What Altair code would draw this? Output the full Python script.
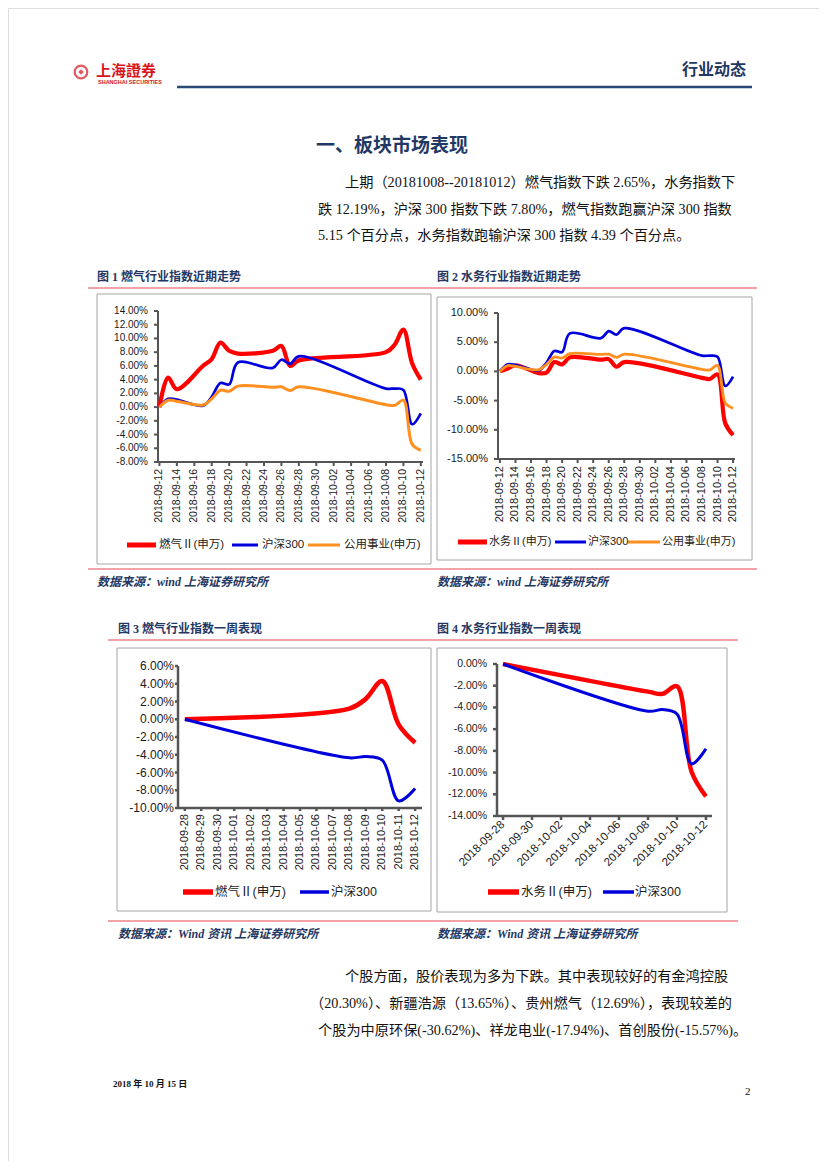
import altair as alt
import pandas as pd

M = 8            # page margin of the html body
W, H = 811, 1153  # drawing canvas (page minus margins)

RED = "#ff0000"
BLUE = "#0000dd"
ORANGE = "#ff8f1f"
NAVY = "#1f3864"
LINE_RED = "#e2474f"
FRAME = "#a6a6a6"
AXIS = "#555555"
TXT = "#111111"

SANS = "Liberation Sans, Arial, Noto Sans CJK SC"
CJK = "Noto Sans CJK SC"
SERIF = "Liberation Serif, Noto Sans CJK SC"

# ---------------- chart data ----------------
month_dates = ["2018-09-12", "2018-09-13", "2018-09-14", "2018-09-17", "2018-09-18",
               "2018-09-19", "2018-09-20", "2018-09-21", "2018-09-25", "2018-09-26",
               "2018-09-27", "2018-09-28", "2018-10-08", "2018-10-09", "2018-10-10",
               "2018-10-11", "2018-10-12"]
gas_month = [0.0, 4.3, 2.6, 6.0, 7.0, 9.4, 8.2, 7.8, 8.2, 8.9, 6.0, 6.8, 8.0, 9.1, 11.3, 6.4, 4.0]
hs300_month = [0.0, 1.2, 1.1, 0.2, 1.5, 3.5, 3.3, 6.5, 5.7, 6.9, 6.3, 7.4, 2.7, 2.7, 2.5, -2.5, -0.9]
util_month = [0.0, 1.0, 0.85, 0.3, 1.2, 2.45, 2.3, 3.05, 2.9, 2.95, 2.4, 2.95, 0.35, 0.25, 1.0, -5.4, -6.3]
water_month = [0.0, 0.5, 1.05, -0.3, -0.2, 1.6, 1.2, 2.4, 2.0, 2.1, 0.8, 1.6, -1.1, -1.3, -0.5, -8.9, -10.9]

week_dates = ["2018-09-28", "2018-10-08", "2018-10-09", "2018-10-10", "2018-10-11", "2018-10-12"]
gas_week = [0.0, 1.2, 2.3, 4.3, -0.6, -2.65]
hs300_week = [0.0, -4.35, -4.2, -4.6, -9.2, -7.8]
water_week = [0.0, -2.55, -2.75, -2.05, -9.9, -12.19]

NAME_GAS = "燃气Ⅱ(申万)"
NAME_WATER = "水务Ⅱ(申万)"
NAME_HS = "沪深300"
NAME_UTIL = "公用事业(申万)"

month_ticks = ["2018-09-12", "2018-09-14", "2018-09-16", "2018-09-18", "2018-09-20",
               "2018-09-22", "2018-09-24", "2018-09-26", "2018-09-28", "2018-09-30",
               "2018-10-02", "2018-10-04", "2018-10-06", "2018-10-08", "2018-10-10",
               "2018-10-12"]
week_ticks_daily = ["2018-09-28", "2018-09-29", "2018-09-30", "2018-10-01", "2018-10-02",
                    "2018-10-03", "2018-10-04", "2018-10-05", "2018-10-06", "2018-10-07",
                    "2018-10-08", "2018-10-09", "2018-10-10", "2018-10-11", "2018-10-12"]
week_ticks_2 = ["2018-09-28", "2018-09-30", "2018-10-02", "2018-10-04", "2018-10-06",
                "2018-10-08", "2018-10-10", "2018-10-12"]
y1_ticks = [-8, -6, -4, -2, 0, 2, 4, 6, 8, 10, 12, 14]
y2_ticks = [-15, -10, -5, 0, 5, 10]
y3_ticks = [-10, -8, -6, -4, -2, 0, 2, 4, 6]
y4_ticks = [-14, -12, -10, -8, -6, -4, -2, 0]

# ---------------- page text ----------------
para1 = ["上期（20181008--20181012）燃气指数下跌 2.65%，水务指数下",
         "跌 12.19%，沪深 300 指数下跌 7.80%，燃气指数跑赢沪深 300 指数",
         "5.15 个百分点，水务指数跑输沪深 300 指数 4.39 个百分点。"]
para2 = ["个股方面，股价表现为多为下跌。其中表现较好的有金鸿控股",
         "（20.30%）、新疆浩源（13.65%）、贵州燃气（12.69%），表现较差的",
         "个股为中原环保(-30.62%)、祥龙电业(-17.94%)、首创股份(-15.57%)。"]
fig_titles = ["图 1 燃气行业指数近期走势", "图 2 水务行业指数近期走势",
              "图 3  燃气行业指数一周表现", "图 4  水务行业指数一周表现"]
sources = ["数据来源：wind 上海证券研究所", "数据来源：wind  上海证券研究所",
           "数据来源：Wind 资讯 上海证券研究所", "数据来源：Wind 资讯 上海证券研究所"]

one = pd.DataFrame({"k": [0]})


def dt(s, h=0):
    y, m, d = (int(p) for p in s.split("-"))
    return alt.DateTime(year=y, month=m, date=d, hours=h)


def ts(s, h=0):
    return pd.Timestamp(s) + pd.Timedelta(hours=h)


def pct(v):
    return f"{v:.2f}%"


def txt(s, x, y, size, color=TXT, font=SERIF, weight="normal", style="normal", align="left"):
    return alt.Chart(one).mark_text(
        text=s, fontSize=size, font=font, fontWeight=weight, fontStyle=style,
        color=color, align=align, baseline="middle"
    ).encode(x=alt.value(x - M), y=alt.value(y - M))


def panel(dates, series, xlo, xhi, xr, yr, ydom, xticks, yticks, xfs, yfs, dw,
          xangle=270, xpad=3, ypad=4, tick=4):
    """xr = (left, right) page px of x axis, yr = (bottom, top) page px of y axis."""
    xdom = [dt(*xlo), dt(*xhi)]
    xscale = alt.Scale(domain=xdom, range=[xr[0] - M, xr[1] - M], nice=False)
    yscale = alt.Scale(domain=ydom, range=[yr[0] - M, yr[1] - M], nice=False, zero=False)
    ax = xr[0] - M   # y axis x position (canvas)
    ay = yr[0] - M   # x axis y position (canvas)

    X = lambda f: alt.X(f, scale=xscale, axis=None)
    Y = lambda f: alt.Y(f, scale=yscale, axis=None)

    layers = []
    # axis lines
    ydomain_df = pd.DataFrame({"lo": [ydom[0]], "hi": [ydom[1]]})
    layers.append(alt.Chart(ydomain_df).mark_rule(color=AXIS, strokeWidth=dw).encode(
        x=alt.value(ax), y=Y("lo:Q"), y2="hi:Q"))
    xdomain_df = pd.DataFrame({"lo": [ts(*xlo)], "hi": [ts(*xhi)]})
    layers.append(alt.Chart(xdomain_df).mark_rule(color=AXIS, strokeWidth=dw).encode(
        y=alt.value(ay), x=X("lo:T"), x2="hi:T"))
    # y ticks + labels
    ydf = pd.DataFrame({"v": yticks, "lab": [pct(v) for v in yticks]})
    layers.append(alt.Chart(ydf).mark_rule(color=AXIS, strokeWidth=dw).encode(
        x=alt.value(ax - tick), x2=alt.value(ax), y=Y("v:Q")))
    layers.append(alt.Chart(ydf).mark_text(align="right", baseline="middle", font=SANS,
                                           fontSize=yfs, color="#1a1a1a").encode(
        x=alt.value(ax - tick - ypad), y=Y("v:Q"), text="lab:N"))
    # x ticks + labels
    xdf = pd.DataFrame({"d": pd.to_datetime(xticks), "lab": xticks})
    layers.append(alt.Chart(xdf).mark_rule(color=AXIS, strokeWidth=dw).encode(
        y=alt.value(ay), y2=alt.value(ay + tick), x=X("d:T")))
    layers.append(alt.Chart(xdf).mark_text(align="right", baseline="middle", font=SANS,
                                           fontSize=xfs, angle=xangle, color="#1a1a1a").encode(
        y=alt.value(ay + tick + xpad), x=X("d:T"), text="lab:N"))
    # series
    base = pd.DataFrame({"date": pd.to_datetime(dates)})
    for name, vals, color, sw in series:
        d = base.assign(v=vals, s=name)
        layers.append(
            alt.Chart(d).mark_line(color=color, strokeWidth=sw, interpolate="catmull-rom").encode(
                x=X("date:T"), y=Y("v:Q")))
    return alt.layer(*layers)


c1 = panel(month_dates,
           [(NAME_GAS, gas_month, RED, 4.2), (NAME_HS, hs300_month, BLUE, 2.7),
            (NAME_UTIL, util_month, ORANGE, 3)],
           ("2018-09-11", 20), ("2018-10-12", 6), (158, 423), (462, 311), [-8, 14],
           month_ticks, y1_ticks, 10.5, 10, 2, ypad=6)
c2 = panel(month_dates,
           [(NAME_WATER, water_month, RED, 4.2), (NAME_HS, hs300_month, BLUE, 2.7),
            (NAME_UTIL, util_month, ORANGE, 2.8)],
           ("2018-09-11", 18), ("2018-10-12", 6), (498, 735), (459, 313), [-15, 10],
           month_ticks, y2_ticks, 11, 11, 2, ypad=6)
c3 = panel(week_dates,
           [(NAME_GAS, gas_week, RED, 4.6), (NAME_HS, hs300_week, BLUE, 3)],
           ("2018-09-27", 14), ("2018-10-12", 10), (178, 422), (808, 666), [-10, 6],
           week_ticks_daily, y3_ticks, 11, 12, 2.5, ypad=1, tick=3)
c4 = panel(week_dates,
           [(NAME_WATER, water_week, RED, 4.4), (NAME_HS, hs300_week, BLUE, 3)],
           ("2018-09-27", 14), ("2018-10-12", 10), (497, 712), (816, 664), [-14, 0],
           week_ticks_2, y4_ticks, 11.5, 10.5, 2.5, xangle=315, xpad=3, ypad=6)

# ---------------- page furniture ----------------
frames = pd.DataFrame({"x": [97, 437, 117, 437], "x2": [431, 752, 431, 727],
                       "y": [294, 297, 648, 648], "y2": [564, 560, 911, 912]}) - M
frame_layer = alt.Chart(frames).mark_rect(fillOpacity=0, stroke=FRAME, strokeWidth=1).encode(
    x=alt.X("x:Q", scale=None, axis=None), x2="x2:Q",
    y=alt.Y("y:Q", scale=None, axis=None), y2="y2:Q")

reds = pd.DataFrame({"x": [88, 88, 108, 108], "x2": [757, 757, 738, 738],
                     "y": [288, 569, 640, 921]}) - M
red_layer = alt.Chart(reds).mark_rule(color=LINE_RED, strokeWidth=1).encode(
    x=alt.X("x:Q", scale=None, axis=None), x2="x2:Q", y=alt.Y("y:Q", scale=None, axis=None))

header_rule = alt.Chart(one).mark_rule(color="#2b4a78", strokeWidth=2.5).encode(
    x=alt.value(177 - M), x2=alt.value(752 - M), y=alt.value(87 - M))

leg_lines = pd.DataFrame({
    "x": [127, 232, 308, 458, 555, 628, 183, 300, 488, 603],
    "x2": [156, 258, 340, 487, 586, 660, 213, 329, 519, 634],
    "y": [545, 545, 545, 542, 542, 542, 892, 892, 892, 892],
    "c": [RED, BLUE, ORANGE, RED, BLUE, ORANGE, RED, BLUE, RED, BLUE],
    "w": [5, 3, 3, 5, 3, 3, 5.5, 3.5, 5.5, 3.5]})
leg_lines[["x", "x2", "y"]] -= M
leg_line_layer = alt.Chart(leg_lines).mark_rule().encode(
    x=alt.X("x:Q", scale=None, axis=None), x2="x2:Q", y=alt.Y("y:Q", scale=None, axis=None),
    color=alt.Color("c:N", scale=None), strokeWidth=alt.StrokeWidth("w:Q", scale=None))

leg_text = pd.DataFrame({
    "x": [159, 262, 344, 489, 588, 662, 215, 331, 521, 635],
    "y": [545, 545, 545, 542, 542, 542, 892, 892, 892, 892],
    "t": [NAME_GAS, NAME_HS, NAME_UTIL, NAME_WATER, NAME_HS, NAME_UTIL,
          NAME_GAS, NAME_HS, NAME_WATER, NAME_HS],
    "fs": [11.5, 11.5, 11.5, 11, 11, 11, 12.5, 12.5, 12.5, 12.5]})
leg_text[["x", "y"]] -= M
leg_text_layer = alt.Chart(leg_text).mark_text(align="left", baseline="middle", font=SANS,
                                               color="#222222").encode(
    x=alt.X("x:Q", scale=None, axis=None), y=alt.Y("y:Q", scale=None, axis=None),
    text="t:N", size=alt.Size("fs:Q", scale=None))

logo_circle = alt.Chart(one).mark_point(shape="circle", filled=False, stroke="#d7141c",
                                        strokeWidth=2.2, size=160).encode(
    x=alt.value(81 - M), y=alt.value(72 - M))
logo_core = alt.Chart(one).mark_point(shape="diamond", filled=True, color="#d7141c",
                                      size=30).encode(x=alt.value(81 - M), y=alt.value(72 - M))

decor = [
    frame_layer, red_layer, header_rule, leg_line_layer, leg_text_layer,
    logo_circle, logo_core,
    txt("上海證券", 96, 71, 15, color="#d7141c", font=CJK, weight="bold"),
    txt("SHANGHAI SECURITIES", 98, 81.5, 5.5, color="#d7141c", font=SANS, weight="bold"),
    txt("行业动态", 746, 70, 16, color=NAVY, font=CJK, weight="bold", align="right"),
    txt("一、板块市场表现", 316, 146, 19, color=NAVY, font=CJK, weight="bold"),
    txt(para1[0], 345, 183, 14.2),
    txt(para1[1], 318, 210, 14.2),
    txt(para1[2], 318, 236, 14.2),
    txt(fig_titles[0], 97, 277, 12, color=NAVY, weight="bold"),
    txt(fig_titles[1], 437, 277, 12, color=NAVY, weight="bold"),
    txt(fig_titles[2], 118, 629, 12, color=NAVY, weight="bold"),
    txt(fig_titles[3], 437, 629, 12, color=NAVY, weight="bold"),
    txt(sources[0], 97, 582, 12, color=NAVY, weight="bold", style="italic"),
    txt(sources[1], 437, 582, 12, color=NAVY, weight="bold", style="italic"),
    txt(sources[2], 118, 934, 12, color=NAVY, weight="bold", style="italic"),
    txt(sources[3], 437, 934, 12, color=NAVY, weight="bold", style="italic"),
    txt(para2[0], 345, 977, 14.2),
    txt(para2[1], 310, 1004, 14.2),
    txt(para2[2], 318, 1031, 14.2),
    txt("2018 年 10 月 15 日", 113, 1084, 9, color="#111111", weight="bold"),
    txt("2", 745, 1092, 11),
]

chart = alt.layer(*decor, c1, c2, c3, c4).resolve_scale(
    x="independent", y="independent"
).properties(
    width=W, height=H, padding=0, autosize=alt.AutoSizeParams(type="none")
).configure_view(stroke="transparent").configure(background="white")

chart.save("out.html", embed_options={"renderer": "svg", "actions": False})
